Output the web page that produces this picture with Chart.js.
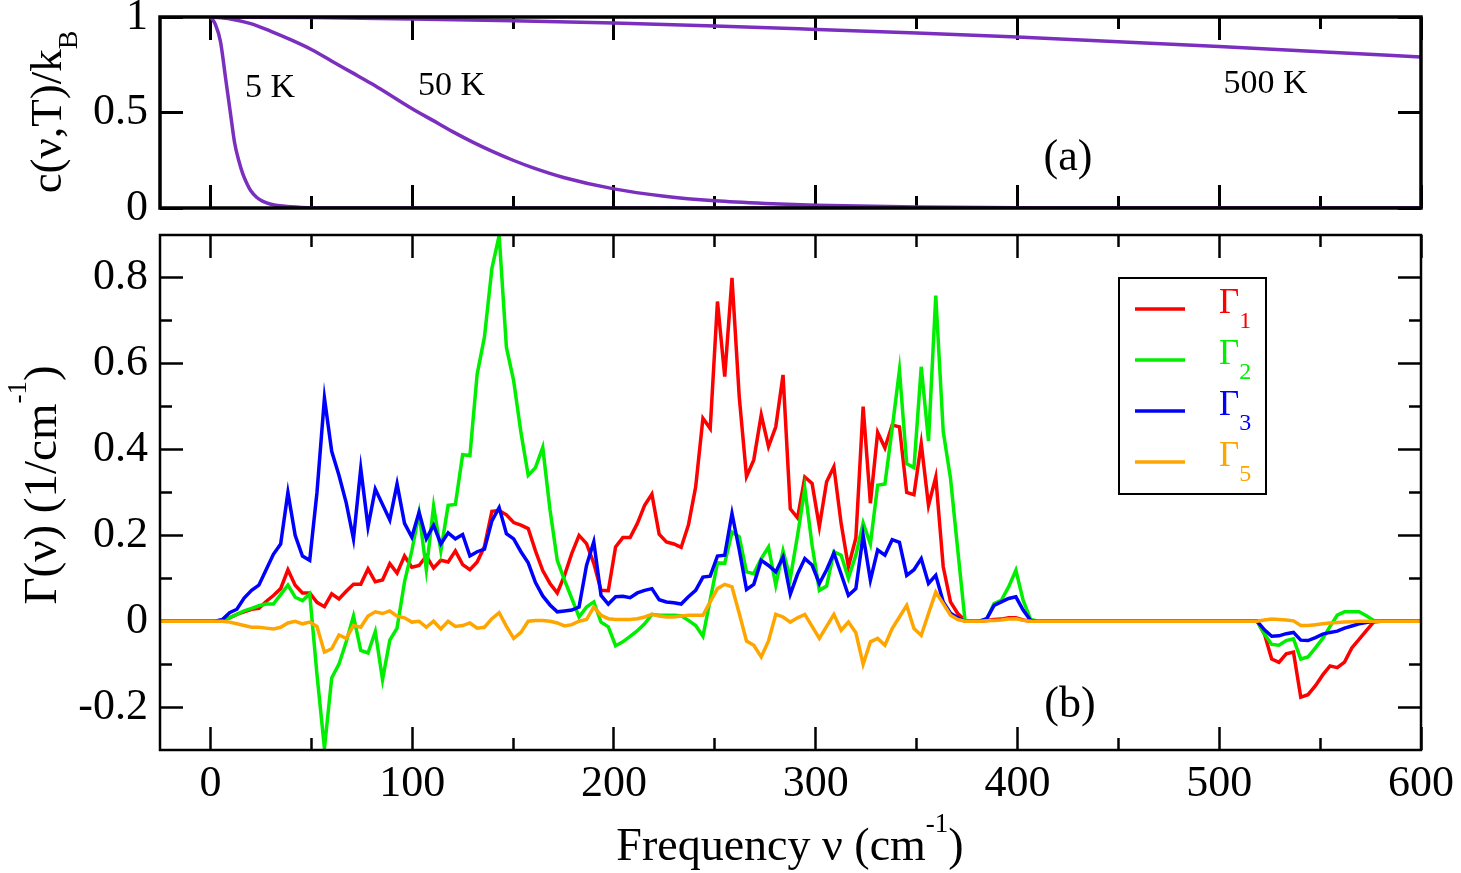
<!DOCTYPE html>
<html>
<head>
<meta charset="utf-8">
<title>c(ν,T)/kB and Γ(ν)</title>
<script src="https://cdn.jsdelivr.net/npm/chart.js@4.4.1/dist/chart.umd.min.js"></script>
<style>
  body { margin: 0; background: #fff; }
  #wrap { position: relative; width: 1461px; height: 873px; }
  #top { position: absolute; left: 0; top: 0; }
  #bot { position: absolute; left: 0; top: 225px; }
</style>
</head>
<body>
<div id="wrap">
  <canvas id="top" width="1461" height="225"></canvas>
  <canvas id="bot" width="1461" height="648"></canvas>
</div>
<script>
// ================= DATA: panel (a) =================
const cap5Freq = [0, 2.5, 5, 7.5, 10, 12, 14, 16, 18, 20, 23, 26, 30, 36, 45, 60, 600];
const cap5 = [1, 0.96, 0.87, 0.68, 0.49, 0.34, 0.25, 0.18, 0.13, 0.09, 0.055, 0.035, 0.02, 0.01, 0.003, 0, 0];

const cap50Freq = [0, 10, 20, 30, 40, 50, 60, 70, 80, 90, 100, 110, 120, 130, 140, 150, 160, 175, 200, 225, 250, 275, 300, 350, 400, 450, 600];
const cap50 = [1, 0.99, 0.965, 0.925, 0.88, 0.83, 0.77, 0.71, 0.65, 0.585, 0.52, 0.46, 0.4, 0.345, 0.295, 0.25, 0.21, 0.16, 0.1, 0.062, 0.038, 0.024, 0.015, 0.005, 0.001, 0, 0];

const cap500Freq = [0, 50, 100, 150, 200, 250, 300, 350, 400, 450, 500, 550, 600];
const cap500 = [1, 0.997, 0.99, 0.98, 0.968, 0.953, 0.935, 0.916, 0.895, 0.871, 0.845, 0.818, 0.79];

// ================= DATA: panel (b) =================
const freq = [
  -25, 0, 2.3, 5.9, 9.5, 13.1, 16.7, 20.4, 24.0, 27.6,
  31.2, 34.8, 38.4, 42.0, 45.6, 49.2, 52.8, 56.5, 60.1, 63.7,
  67.3, 70.9, 74.5, 78.1, 81.7, 85.3, 88.9, 92.5, 96.2, 99.8,
  103.4, 107.0, 110.6, 114.2, 117.8, 121.4, 125.0, 128.6, 132.2, 135.8,
  139.5, 143.1, 146.7, 150.3, 153.9, 157.5, 161.1, 164.7, 168.3, 171.9,
  175.5, 179.1, 182.7, 186.4, 190.0, 193.6, 197.2, 200.8, 204.4, 208.0,
  211.6, 215.2, 218.8, 222.4, 226.0, 229.7, 233.3, 236.9, 240.5, 244.1,
  247.7, 251.3, 254.9, 258.5, 262.1, 265.7, 269.3, 273.0, 276.6, 280.2,
  283.8, 287.4, 291.0, 294.6, 298.2, 301.8, 305.4, 309.0, 312.6, 316.2,
  319.9, 323.5, 327.1, 330.7, 334.3, 337.9, 341.5, 345.1, 348.7, 352.3,
  355.9, 359.5, 363.2, 366.8, 370.4, 374.0, 377.6, 381.2, 384.8, 388.4,
  392.0, 395.6, 399.2, 402.8, 406.5, 410.1, 515.0, 518.8, 522.4, 526.0,
  529.6, 533.2, 536.8, 540.4, 544.0, 547.7, 551.3, 554.9, 558.5, 562.1,
  565.7, 569.3, 572.9, 576.5, 580.1, 600
];

const gamma1 = [
  0, 0, 0, 0.002, 0.008, 0.016, 0.022, 0.028, 0.030, 0.046,
  0.060, 0.076, 0.120, 0.084, 0.066, 0.066, 0.044, 0.034, 0.064, 0.052,
  0.070, 0.086, 0.086, 0.122, 0.092, 0.096, 0.134, 0.112, 0.152, 0.126,
  0.130, 0.152, 0.124, 0.142, 0.138, 0.164, 0.132, 0.120, 0.138, 0.174,
  0.256, 0.258, 0.248, 0.230, 0.224, 0.216, 0.164, 0.118, 0.088, 0.066,
  0.107, 0.158, 0.200, 0.181, 0.135, 0.072, 0.071, 0.173, 0.195, 0.195,
  0.228, 0.270, 0.296, 0.203, 0.185, 0.180, 0.172, 0.224, 0.313, 0.473,
  0.449, 0.745, 0.570, 0.800, 0.523, 0.337, 0.376, 0.481, 0.407, 0.453,
  0.574, 0.262, 0.241, 0.336, 0.321, 0.220, 0.325, 0.360, 0.228, 0.127,
  0.194, 0.500, 0.275, 0.440, 0.404, 0.457, 0.453, 0.300, 0.295, 0.414,
  0.270, 0.336, 0.127, 0.045, 0.018, 0.002, 0, 0, 0.002, 0.004,
  0.005, 0.008, 0.008, 0.003, 0, 0, 0, 0, -0.030, -0.088,
  -0.096, -0.076, -0.072, -0.177, -0.171, -0.150, -0.125, -0.104, -0.108, -0.095,
  -0.062, -0.042, -0.022, -0.002, 0, 0
];

const gamma2 = [
  0, 0, 0, 0.002, 0.008, 0.016, 0.024, 0.030, 0.036, 0.040,
  0.040, 0.062, 0.084, 0.056, 0.048, 0.064, -0.124, -0.296, -0.132, -0.100,
  -0.048, 0.012, -0.068, -0.074, -0.024, -0.136, -0.044, -0.016, 0.092, 0.164,
  0.252, 0.120, 0.268, 0.164, 0.270, 0.272, 0.388, 0.386, 0.576, 0.662,
  0.822, 0.899, 0.638, 0.560, 0.440, 0.340, 0.358, 0.405, 0.260, 0.142,
  0.096, 0.053, 0.010, 0.033, 0.045, -0.002, -0.013, -0.057, -0.048, -0.035,
  -0.022, -0.006, 0.016, 0.014, 0.014, 0.014, 0.013, 0.002, -0.010, -0.035,
  0.050, 0.136, 0.135, 0.208, 0.197, 0.115, 0.111, 0.146, 0.173, 0.084,
  0.164, 0.100, 0.200, 0.310, 0.177, 0.072, 0.082, 0.162, 0.154, 0.100,
  0.154, 0.229, 0.180, 0.317, 0.320, 0.449, 0.585, 0.367, 0.358, 0.593,
  0.420, 0.759, 0.442, 0.333, 0.166, 0.002, 0, 0, 0.006, 0.041,
  0.049, 0.080, 0.119, 0.049, 0.004, 0, 0, 0, -0.030, -0.054,
  -0.056, -0.045, -0.041, -0.088, -0.083, -0.062, -0.040, -0.012, 0.014, 0.022,
  0.022, 0.022, 0.013, 0.002, 0, 0
];

const gamma3 = [
  0, 0, 0, 0.004, 0.020, 0.028, 0.054, 0.072, 0.084, 0.120,
  0.156, 0.180, 0.300, 0.200, 0.152, 0.142, 0.300, 0.520, 0.396, 0.340,
  0.276, 0.192, 0.356, 0.220, 0.308, 0.272, 0.236, 0.320, 0.228, 0.196,
  0.254, 0.192, 0.224, 0.180, 0.206, 0.192, 0.202, 0.152, 0.162, 0.168,
  0.234, 0.265, 0.204, 0.192, 0.162, 0.136, 0.090, 0.059, 0.038, 0.022,
  0.024, 0.026, 0.033, 0.130, 0.185, 0.060, 0.040, 0.057, 0.058, 0.055,
  0.066, 0.072, 0.076, 0.050, 0.045, 0.043, 0.040, 0.057, 0.072, 0.103,
  0.105, 0.152, 0.154, 0.251, 0.166, 0.074, 0.086, 0.142, 0.130, 0.115,
  0.150, 0.063, 0.110, 0.146, 0.131, 0.088, 0.120, 0.159, 0.110, 0.060,
  0.076, 0.200, 0.096, 0.166, 0.154, 0.190, 0.184, 0.107, 0.120, 0.146,
  0.088, 0.107, 0.045, 0.019, 0.008, 0, 0, 0, 0.006, 0.037,
  0.045, 0.053, 0.057, 0.026, 0.002, 0, 0, 0, -0.020, -0.035,
  -0.034, -0.029, -0.026, -0.044, -0.045, -0.038, -0.030, -0.026, -0.023, -0.016,
  -0.011, -0.006, -0.003, 0, 0, 0
];

const gamma5 = [
  0, 0, 0, 0, -0.002, -0.006, -0.010, -0.014, -0.014, -0.016,
  -0.018, -0.014, -0.004, 0, -0.006, -0.002, -0.012, -0.072, -0.064, -0.032,
  -0.040, -0.010, -0.014, 0.012, 0.022, 0.018, 0.024, 0.012, 0.008, -0.002,
  0, -0.014, 0, -0.018, 0, -0.012, -0.010, -0.004, -0.016, -0.014,
  0.006, 0.020, -0.012, -0.040, -0.026, 0, 0.002, 0.002, 0, -0.004,
  -0.011, -0.008, 0, 0.004, 0.033, 0.014, 0.006, 0.004, 0.004, 0.004,
  0.006, 0.010, 0.016, 0.012, 0.010, 0.010, 0.012, 0.014, 0.014, 0.014,
  0.045, 0.076, 0.086, 0.080, 0.018, -0.046, -0.056, -0.083, -0.046, 0.016,
  0.010, -0.002, 0.008, 0.016, -0.012, -0.040, -0.012, 0.016, -0.021, -0.002,
  -0.027, -0.100, -0.048, -0.040, -0.056, -0.017, 0.010, 0.037, -0.017, -0.033,
  0.018, 0.068, 0.041, 0.014, 0.004, 0, 0, 0, 0.001, 0.002,
  0.003, 0.005, 0.006, 0.002, 0, 0, 0, 0, 0.003, 0.005,
  0.004, 0.003, 0.001, -0.010, -0.010, -0.008, -0.006, -0.004, -0.003, -0.002,
  -0.001, 0, 0, 0, 0, 0
];

// ================= TICKS =================
const xMajor = [0, 100, 200, 300, 400, 500, 600];
const xMinor = [50, 150, 250, 350, 450, 550];
const capTicks = [0, 0.5, 1];
const gammaTicks = [-0.2, 0, 0.2, 0.4, 0.6, 0.8];
const gammaMinor = [-0.1, 0.1, 0.3, 0.5, 0.7];

const SERIF = "'Liberation Serif', 'Times New Roman', serif";
const PURPLE = '#7b2fbf';
const tickFont = { family: SERIF, size: 44 };

function pts(xs, ys) {
  return xs.map((x, i) => ({ x: x, y: ys[i] }));
}

// draw a run of text pieces [text, size, dy]
function richText(ctx, parts, x, y, align) {
  let w = 0;
  for (const p of parts) { ctx.font = p[1] + 'px ' + SERIF; w += ctx.measureText(p[0]).width; }
  let cx = align === 'center' ? x - w / 2 : x;
  for (const p of parts) {
    ctx.font = p[1] + 'px ' + SERIF;
    ctx.fillText(p[0], cx, y + (p[2] || 0));
    cx += ctx.measureText(p[0]).width;
  }
}

// an axis that only draws inward tick marks (negative tickLength)
function tickAxis(axis, position, values, len, lw, range, extra) {
  return Object.assign({
    type: 'linear', axis: axis, position: position, weight: 0,
    min: range[0], max: range[1],
    afterBuildTicks: s => { s.ticks = values.map(v => ({ value: v })); },
    afterFit: s => {
      if (axis === 'x') s.height = 0; else s.width = 0;
      s.paddingLeft = 0; s.paddingRight = 0; s.paddingTop = 0; s.paddingBottom = 0;
    },
    grid: { display: true, drawOnChartArea: false, drawTicks: true, tickLength: -len, tickWidth: lw, tickColor: '#000' },
    border: { display: false },
    ticks: { display: false }
  }, extra || {});
}

// frame round the plot area + text notes
function framePlugin(name, border, notes) {
  return {
    id: 'frame_' + name,
    afterDraw(chart) {
      const ctx = chart.ctx;
      const a = chart.chartArea;
      const x = chart.scales.x, y = chart.scales.y;
      ctx.save();
      ctx.strokeStyle = '#000';
      ctx.lineWidth = border;
      ctx.strokeRect(a.left, a.top, a.right - a.left, a.bottom - a.top);
      ctx.fillStyle = '#000';
      ctx.textAlign = 'center';
      ctx.textBaseline = 'middle';
      for (const n of notes) {
        ctx.font = n.size + 'px ' + SERIF;
        ctx.fillText(n.text, x.getPixelForValue(n.x), y.getPixelForValue(n.y));
      }
      ctx.restore();
    }
  };
}

const xRange = [-25, 600];
const labelY = (range, values, lw) => tickAxis('y', 'left', values, 23, lw, range, {
  weight: 1,
  afterFit: s => { s.width = 160; s.paddingTop = 0; s.paddingBottom = 0; },
  ticks: { display: true, font: tickFont, color: '#000', padding: 35, callback: v => String(v) }
});

// ================= PANEL (a) =================
new Chart(document.getElementById('top'), {
  type: 'line',
  data: {
    datasets: [
      { data: pts(cap5Freq, cap5) },
      { data: pts(cap50Freq, cap50) },
      { data: pts(cap500Freq, cap500) }
    ].map(d => Object.assign(d, {
      xAxisID: 'x', yAxisID: 'y',
      borderColor: PURPLE, borderWidth: 3.5, pointRadius: 0, fill: false,
      cubicInterpolationMode: 'monotone'
    }))
  },
  options: {
    responsive: false,
    animation: false,
    layout: { padding: { top: 17, right: 40, bottom: 17, left: 0 } },
    plugins: { legend: { display: false }, tooltip: { enabled: false } },
    scales: {
      x: tickAxis('x', 'bottom', xMajor, 23, 3, xRange),
      xMin: tickAxis('x', 'bottom', xMinor, 12, 3, xRange),
      xTop: tickAxis('x', 'top', xMajor, 23, 3, xRange),
      xTopMin: tickAxis('x', 'top', xMinor, 12, 3, xRange),
      y: labelY([0, 1], capTicks, 3),
      yRight: tickAxis('y', 'right', capTicks, 23, 3, [0, 1])
    }
  },
  plugins: [framePlugin('a', 3.5, [
    { text: '5 K', x: 29.5, y: 0.63, size: 34 },
    { text: '50 K', x: 119.5, y: 0.64, size: 34 },
    { text: '500 K', x: 523, y: 0.65, size: 34 },
    { text: '(a)', x: 425, y: 0.26, size: 44 }
  ]), {
    id: 'titlesA',
    afterDraw(chart) {
      const ctx = chart.ctx;
      ctx.save();
      ctx.fillStyle = '#000';
      ctx.textBaseline = 'alphabetic';
      ctx.translate(61, 112);
      ctx.rotate(-Math.PI / 2);
      richText(ctx, [['c(ν,T)/k', 45], ['B', 28, 16]], 0, 0, 'center');
      ctx.restore();
    }
  }]
});

// ================= PANEL (b) =================
const series = [
  { label: 'Γ1', sub: '1', values: gamma1, color: '#ff0000', order: 4 },
  { label: 'Γ2', sub: '2', values: gamma2, color: '#00ee00', order: 3 },
  { label: 'Γ3', sub: '3', values: gamma3, color: '#0000ff', order: 2 },
  { label: 'Γ5', sub: '5', values: gamma5, color: '#ffa500', order: 1 }
];
const gRange = [-0.3, 0.9];

new Chart(document.getElementById('bot'), {
  type: 'line',
  data: {
    datasets: series.map(s => ({
      label: s.label,
      data: pts(freq, s.values),
      xAxisID: 'x', yAxisID: 'y',
      borderColor: s.color,
      borderWidth: 3.5,
      pointRadius: 0,
      fill: false,
      tension: 0,
      order: s.order
    }))
  },
  options: {
    responsive: false,
    animation: false,
    layout: { padding: { top: 10, right: 40, bottom: 0, left: 0 } },
    plugins: { legend: { display: false }, tooltip: { enabled: false } },
    scales: {
      x: tickAxis('x', 'bottom', xMajor, 23, 2.5, xRange, {
        weight: 1,
        afterFit: s => { s.height = 123; s.paddingLeft = 0; s.paddingRight = 0; },
        ticks: { display: true, font: tickFont, color: '#000', padding: 31, maxRotation: 0, autoSkip: false, callback: v => String(v) }
      }),
      xMin: tickAxis('x', 'bottom', xMinor, 12, 2.5, xRange),
      xTop: tickAxis('x', 'top', xMajor, 23, 2.5, xRange),
      xTopMin: tickAxis('x', 'top', xMinor, 12, 2.5, xRange),
      y: labelY(gRange, gammaTicks, 2.5),
      yMin: tickAxis('y', 'left', gammaMinor, 12, 2.5, gRange),
      yRight: tickAxis('y', 'right', gammaTicks, 23, 2.5, gRange),
      yRightMin: tickAxis('y', 'right', gammaMinor, 12, 2.5, gRange)
    }
  },
  plugins: [framePlugin('b', 2.5, [{ text: '(b)', x: 426, y: -0.196, size: 44 }]), {
    id: 'titlesB',
    afterDraw(chart) {
      const ctx = chart.ctx;
      ctx.save();
      ctx.fillStyle = '#000';
      ctx.textBaseline = 'alphabetic';
      // x title
      richText(ctx, [['Frequency ν (cm', 46], ['-1', 27, -28], [')', 46]], 790, 635, 'center');
      // y title
      ctx.save();
      ctx.translate(56, 260);
      ctx.rotate(-Math.PI / 2);
      richText(ctx, [['Γ(ν) (1/cm', 47], ['-1', 27, -30], [')', 47]], 0, 0, 'center');
      ctx.restore();

      // legend box
      ctx.lineWidth = 2;
      ctx.strokeStyle = '#000';
      ctx.fillStyle = '#fff';
      ctx.fillRect(1119, 53, 147, 216);
      ctx.strokeRect(1119, 53, 147, 216);
      series.forEach((s, i) => {
        const ly = 84 + i * 51;
        ctx.strokeStyle = s.color;
        ctx.lineWidth = 3.5;
        ctx.beginPath();
        ctx.moveTo(1135, ly);
        ctx.lineTo(1185, ly);
        ctx.stroke();
        ctx.fillStyle = s.color;
        richText(ctx, [['Γ', 35], [s.sub, 24, 15]], 1219, ly + 4, 'left');
      });
      ctx.restore();
    }
  }]
});
</script>
</body>
</html>
